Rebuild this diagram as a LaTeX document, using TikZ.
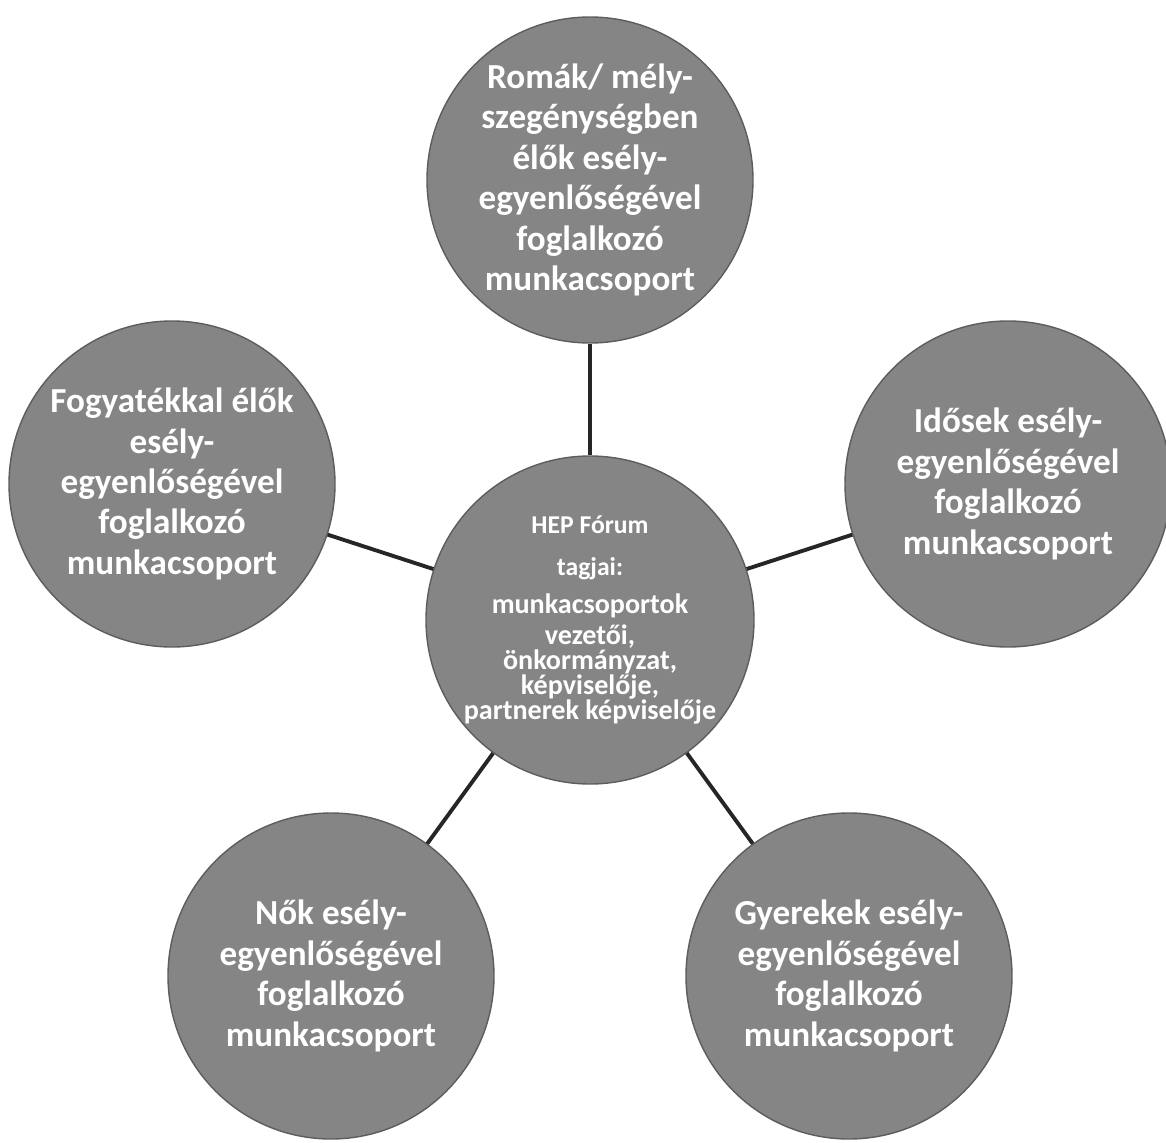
\documentclass[tikz,border=0pt]{standalone}
\usepackage{fontspec}
\setmainfont{Carlito}
\definecolor{bubble}{gray}{0.52}

\begin{document}
\begin{tikzpicture}[
    every node/.style={font=\bfseries\fontsize{10}{11.5}\selectfont},
    grp/.style ={circle,fill=bubble,draw=bubble!70!black,
                 minimum size=32.6mm,inner sep=0pt,align=center,
                 text=white},
    hub/.style ={grp,font=\bfseries\fontsize{7.3}{7.2}\selectfont},
    link/.style={line width=1.1pt,black!85},
  ]
  \useasboundingbox (0,0) rectangle (11.66,11.42);

  % Centre: the forum
  \node[hub] (H) at (5.90,5.22) {HEP Fórum\\[5pt]
        tagjai:\\[3.5pt]
        {\fontsize{8}{7.2}\selectfont munkacsoportok}\\[1.5pt]
        {\fontsize{8}{7.2}\selectfont vezetői,}\\
        {\fontsize{8}{7.2}\selectfont önkormányzat,}\\
        {\fontsize{8}{7.2}\selectfont képviselője,}\\
        {\fontsize{8}{7.2}\selectfont partnerek képviselője}};

  % Working groups round the forum
  \node[grp,inner sep=-8pt] (RO) at (5.90,9.62) {Romák/ mély-\\szegénységben\\
        élők esély-\\egyenlőségével\\foglalkozó\\munkacsoport};
  \node[grp] (ID) at (10.08,6.58) {Idősek esély-\\egyenlőségével\\
        foglalkozó\\munkacsoport};
  \node[grp] (GY) at (8.49,1.66) {Gyerekek esély-\\egyenlőségével\\
        foglalkozó\\munkacsoport};
  \node[grp] (NO) at (3.31,1.66) {Nők esély-\\egyenlőségével\\
        foglalkozó\\munkacsoport};
  \node[grp] (FO) at (1.72,6.58) {Fogyatékkal élők\\esély-\\
        egyenlőségével\\foglalkozó\\munkacsoport};

  % Links
  \draw[link] (H) -- (RO);
  \draw[link] (H) -- (ID);
  \draw[link] (H) -- (GY);
  \draw[link] (H) -- (NO);
  \draw[link] (H) -- (FO);
\end{tikzpicture}
\end{document}
